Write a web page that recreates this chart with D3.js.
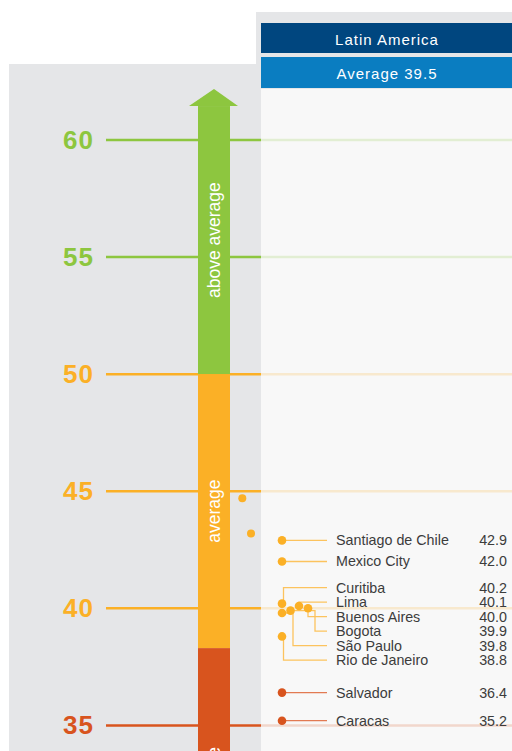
<!DOCTYPE html>
<html>
<head>
<meta charset="utf-8">
<script src="https://cdn.jsdelivr.net/npm/d3@7"></script>
<style>
    body { margin: 0; background: white; }
    svg { display: block; font-family: "Liberation Sans", Arial, sans-serif; }
</style>
</head>
<body>
<div id="canvas"></div>
<script>
"use strict"

/* Data */
let cities = ["Santiago de Chile", "Mexico City", "Curitiba", "Lima", "Buenos Aires",
              "Bogota", "São Paulo", "Rio de Janeiro", "Salvador", "Caracas"];
let cityValues = [42.9, 42.0, 40.2, 40.1, 40.0, 39.9, 39.8, 38.8, 36.4, 35.2];
let strayValues = [44.7, 43.2];          // unlabelled dots left of the panel
let tickValues = [60, 55, 50, 45, 40, 35];
let bandNames = ["above average", "average", "below average"];
let bandLimits = [[50, 61.45], [38.3, 50], [25, 38.3]];
let regionName = "Latin America";
let regionAverage = 39.5;

/* Configuration variables: drawing */
let svgWidth = 512;
let svgHeight = 751;

let green = "#8dc63f";
let orange = "#fbb026";
let red = "#d8541e";
let grey = "#e5e6e8";

/* layout of the crowded cluster (not data) */
let dotShift = [0, 0, 0, 17, 26, 8.5, 0, 0, 0, 0];
let elbowShift = [0, 0, 1.5, 17, 26, 33, 11, 1.5, 0, 0];
let labelSlot = [null, null, 0, 1, 2, 3, 4, 5, null, null];
let strayX = [242.3, 251];

let svg = d3.select("#canvas")
    .append("svg")
    .attr("width", svgWidth)
    .attr("height", svgHeight);

let yScale = d3.scaleLinear()
    .domain([35, 60])
    .range([725.4, 140]);

function bandColor(v) {
    if (v > 50) return green;
    if (v >= 38.3) return orange;
    return red;
}

/* Backgrounds */
svg.append("rect")
    .attr("x", 9).attr("y", 64)
    .attr("width", 252).attr("height", svgHeight - 64)
    .attr("fill", grey);

svg.append("rect")
    .attr("x", 256).attr("y", 12)
    .attr("width", svgWidth - 256).attr("height", svgHeight - 12)
    .attr("fill", grey);

svg.append("rect")
    .attr("x", 261).attr("y", 89)
    .attr("width", svgWidth - 261).attr("height", svgHeight - 89)
    .attr("fill", "#f8f8f8");

/* Header */
svg.append("rect")
    .attr("x", 261).attr("y", 23)
    .attr("width", svgWidth - 261).attr("height", 30)
    .attr("fill", "#00467f");

svg.append("rect")
    .attr("x", 261).attr("y", 57)
    .attr("width", svgWidth - 261).attr("height", 31)
    .attr("fill", "#0a7dc1");

svg.append("text")
    .attr("x", 387).attr("y", 39)
    .attr("text-anchor", "middle")
    .attr("dominant-baseline", "central")
    .attr("fill", "white")
    .attr("font-size", "15px")
    .attr("letter-spacing", "1px")
    .text(regionName);

svg.append("text")
    .attr("x", 387).attr("y", 73)
    .attr("text-anchor", "middle")
    .attr("dominant-baseline", "central")
    .attr("fill", "white")
    .attr("font-size", "15px")
    .attr("letter-spacing", "1px")
    .text("Average " + regionAverage);

/* Tick lines: strong on the left, faint across the panel */
svg.selectAll(".tickFaint")
    .data(tickValues)
    .join("line")
    .attr("class", "tickFaint")
    .attr("x1", 261).attr("x2", svgWidth)
    .attr("y1", function(d) { return yScale(d); })
    .attr("y2", function(d) { return yScale(d); })
    .attr("stroke", function(d) { return bandColor(d); })
    .attr("stroke-opacity", 0.2)
    .attr("stroke-width", 2.5);

svg.selectAll(".tickLine")
    .data(tickValues)
    .join("line")
    .attr("class", "tickLine")
    .attr("x1", 106).attr("x2", 261)
    .attr("y1", function(d) { return yScale(d); })
    .attr("y2", function(d) { return yScale(d); })
    .attr("stroke", function(d) { return bandColor(d); })
    .attr("stroke-width", 2.5);

svg.selectAll(".tickLabel")
    .data(tickValues)
    .join("text")
    .attr("class", "tickLabel")
    .attr("x", 94)
    .attr("y", function(d) { return yScale(d); })
    .attr("text-anchor", "end")
    .attr("dominant-baseline", "central")
    .attr("font-size", "26px")
    .attr("font-weight", "bold")
    .attr("letter-spacing", "1px")
    .attr("fill", function(d) { return bandColor(d); })
    .text(function(d) { return d; });

/* Coloured bar with arrow head */
let barX = 198;
let barW = 32;
let bandFill = [green, orange, red];

svg.selectAll(".band")
    .data(bandLimits)
    .join("rect")
    .attr("class", "band")
    .attr("x", barX)
    .attr("width", barW)
    .attr("y", function(d) { return yScale(d[1]); })
    .attr("height", function(d) { return yScale(d[0]) - yScale(d[1]); })
    .attr("fill", function(d, i) { return bandFill[i]; });

let arrowBase = yScale(bandLimits[0][1]);
svg.append("path")
    .attr("d", "M" + (barX - 9) + "," + arrowBase +
               "L" + (barX + barW / 2) + "," + (arrowBase - 17) +
               "L" + (barX + barW + 8) + "," + arrowBase + "Z")
    .attr("fill", green);

svg.selectAll(".bandText")
    .data(bandLimits)
    .join("text")
    .attr("class", "bandText")
    .attr("transform", function(d, i) {
        let cy = (yScale(d[0]) + yScale(d[1])) / 2;
        return "translate(" + (barX + barW / 2) + "," + cy + ") rotate(-90)";
    })
    .attr("text-anchor", "middle")
    .attr("dominant-baseline", "central")
    .attr("fill", "white")
    .attr("font-size", "17.5px")
    .text(function(d, i) { return bandNames[i]; });

/* stray dots in the gray area */
svg.selectAll(".stray")
    .data(strayValues)
    .join("circle")
    .attr("class", "stray")
    .attr("cx", function(d, i) { return strayX[i]; })
    .attr("cy", function(d) { return yScale(d); })
    .attr("r", 4)
    .attr("fill", function(d) { return bandColor(d); });

/* City dots, connectors and labels */
let dotX = 282;
let lineEnd = 327;
let labelX = 336;
let valueX = 507;
let clusterTop = 587.7;
let slotGap = 14.5;

function labelY(i) {
    if (labelSlot[i] === null) return yScale(cityValues[i]);
    return clusterTop + labelSlot[i] * slotGap;
}

function lineColor(v) {
    return v >= 38.3 ? "#fcc35e" : "#e27a52";
}

svg.selectAll(".connector")
    .data(cityValues)
    .join("path")
    .attr("class", "connector")
    .attr("fill", "none")
    .attr("stroke", function(d) { return lineColor(d); })
    .attr("stroke-width", 1.3)
    .attr("d", function(d, i) {
        let cx = dotX + dotShift[i];
        let cy = yScale(d);
        let ex = dotX + elbowShift[i];
        return "M" + cx + "," + cy + "H" + ex + "V" + labelY(i) + "H" + lineEnd;
    });

svg.selectAll(".dot")
    .data(cityValues)
    .join("circle")
    .attr("class", "dot")
    .attr("cx", function(d, i) { return dotX + dotShift[i]; })
    .attr("cy", function(d) { return yScale(d); })
    .attr("r", 4.3)
    .attr("fill", function(d) { return bandColor(d); });

svg.selectAll(".cityLabel")
    .data(cities)
    .join("text")
    .attr("class", "cityLabel")
    .attr("x", labelX)
    .attr("y", function(d, i) { return labelY(i); })
    .attr("dominant-baseline", "central")
    .attr("font-size", "14.3px")
    .attr("fill", "#3c3c3c")
    .text(function(d) { return d; });

svg.selectAll(".cityValue")
    .data(cityValues)
    .join("text")
    .attr("class", "cityValue")
    .attr("x", valueX)
    .attr("y", function(d, i) { return labelY(i); })
    .attr("text-anchor", "end")
    .attr("dominant-baseline", "central")
    .attr("font-size", "14.3px")
    .attr("fill", "#3c3c3c")
    .text(function(d) { return d.toFixed(1); });
</script>
</body>
</html>
